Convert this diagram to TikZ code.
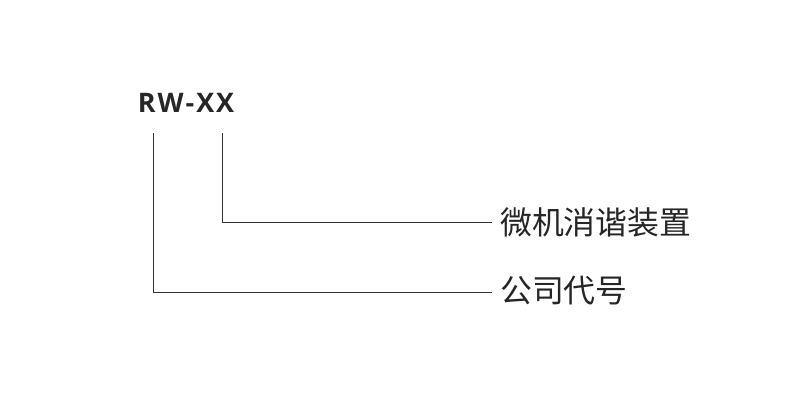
\documentclass[tikz,border=0pt]{standalone}
\usepackage{fontspec}
\newfontfamily\cjk{Noto Sans CJK SC}
\newfontfamily\lat{Open Sans}
\begin{document}
\begin{tikzpicture}[x=1bp,y=-1bp,
  ln/.style={draw=black!80,line width=0.8bp},
  lbl/.style={anchor=west,inner sep=0,font=\cjk\fontsize{32}{34}\selectfont,text=black!85}]
\useasboundingbox[fill=white] (0,0) rectangle (792,414);
\node[inner sep=0,font=\lat\bfseries\fontsize{27}{30}\selectfont,text=black!85] (t) at (186,103) {R\kern2bp W\kern2bp -\kern2bp X\kern2bp X};
\coordinate (a1) at (153,133);
\coordinate (b1) at (222,133);
\node[lbl] (l1) at (500,222) {微机消谐装置};
\node[lbl] (l2) at (500,291) {公司代号};
\draw[ln] (b1) |- ([xshift=-8bp]l1.west);
\draw[ln] (a1) |- ([xshift=-8bp,yshift=-1bp]l2.west);
\end{tikzpicture}
\end{document}
